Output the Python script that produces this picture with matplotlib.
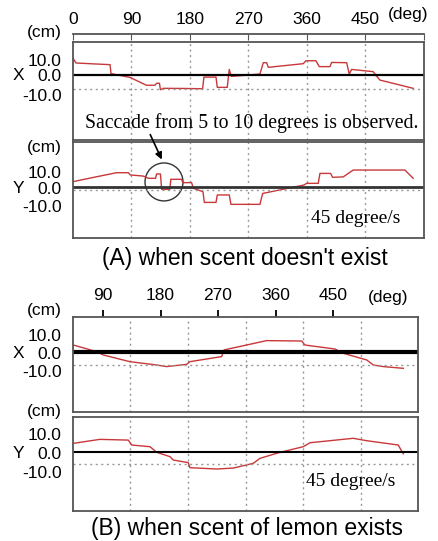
import matplotlib.pyplot as plt
import matplotlib.transforms as mtransforms
from matplotlib.patches import Ellipse

plt.rcParams['font.family'] = ['Liberation Sans', 'DejaVu Sans']

# (A) no scent : horizontal (X) and vertical (Y) gaze position
ax_deg = [0, 4.6, 30, 57, 58.5, 87.7, 113, 126, 128.7, 133, 134.5, 139, 170, 199.4, 201.4,
          220, 222, 237.3, 240.4, 243.5, 287.6, 292.7, 297.9, 300.5, 354.2, 358.4, 373.7,
          378.9, 395.3, 397.9, 421, 425, 428.6, 461.9, 467, 472.2, 523.4]
ax_cm = [12, 8.6, 8.0, 7.4, 1.0, -1.7, -7.3, -7.3, -5.9, -5.9, -10.5, -9.5, -9.6, -9.8, -1.5,
         -1.5, -8.8, -8.8, 4.0, -1.0, 0.7, 8.8, 8.8, 5.5, 8.1, 10.2, 10.2,
         6.0, 6.0, 9.0, 8.8, 0.7, 4.0, 2.4, -0.7, -3.6, -9.5]

ay_deg = [0, 30, 67, 85, 88, 108, 116, 127, 128.7, 134.5, 136.4, 149, 150.5, 167, 169, 182.5,
          185, 200, 202, 220, 222, 240.4, 243, 287.6, 291.8, 355.3, 359.4, 377.3, 379.9,
          396.3, 399.4, 415.7, 431.1, 510.6, 523.4]
ay_cm = [3.6, 6.5, 10.0, 10.0, 8.4, 7.6, 6.0, 6.0, 9.1, 9.1, -1.9, -1.9, 5.3, 5.3, 2.9, 2.9,
         -1.1, -3.6, -11.2, -11.2, -5.9, -5.9, -12.6, -12.6, -4.8, 1.2, 2.4, 2.4, 9.5,
         9.5, 6.7, 7.0, 11.9, 11.9, 6.0]

# (B) scent of lemon
bx_deg = [0.5, 37, 47.5, 89, 131, 146.6, 178, 183, 232.7, 236.3, 271.8, 303, 358, 363,
          410, 423, 459.6, 470, 485.7, 517]
bx_cm = [5, 0, -2.5, -7.5, -10, -11.2, -9.5, -7.5, -3.7, 1.3, 5, 8.3, 8, 5,
         2, -1.2, -6.2, -10, -11.2, -12.5]

by_deg = [0.5, 42, 86.6, 91.8, 120.5, 131, 151.8, 157, 180.5, 183, 225, 251, 282, 292.7,
          324, 360.5, 371, 438.6, 459.6, 509, 517]
by_cm = [7.5, 10.8, 10.2, 6.1, 4.7, 0, -3.6, -6.4, -8.6, -12.8, -13.9, -13.1, -9.2, -5,
         0, 4.7, 8, 11.7, 9.7, 6.1, -1.2]

y_labels = ['10.0', '0.0', '-10.0']
grid_deg = [90, 180, 270, 360, 450]
top_ticks = [0, 90, 180, 270, 360, 450, 540]
top_labels = ['0', '90', '180', '270', '360', '450', '']
b_top_ticks = [90, 180, 270, 360, 450]
b_offset = 43  # top scale of (B) is shifted against the grid

W, H = 439, 541
fig = plt.figure(figsize=(W / 100, H / 100), dpi=100)


def make_ax(left, top, right, bottom, ylim, label_pos):
    ax = fig.add_axes([left / W, 1 - bottom / H, (right - left) / W, (bottom - top) / H])
    ax.set_xlim(0, 540)
    ax.set_ylim(*ylim)
    for s in ax.spines.values():
        s.set_color('#555555')
        s.set_linewidth(1.3)
    ax.set_xticks(grid_deg)
    ax.tick_params(axis='x', length=0, labelbottom=False)
    ax.grid(axis='x', linestyle=(0, (1.5, 2.5)), color='#999999', linewidth=1)
    # the printed labels sit a little apart from the data levels in the original
    ax.set_yticks(label_pos, y_labels)
    ax.tick_params(axis='y', length=0, pad=8, labelsize=12.5)
    return ax


axA_x = make_ax(73, 41.7, 424, 140, (-46.4, 23.8), [10.7, 0, -14.3])
axA_y = make_ax(73, 142.3, 424, 237.7, (-36.4, 31.7), [10.7, -1.1, -13.8])
axB_x = make_ax(73, 317.3, 418, 412.3, (-45.5, 25.8), [12.5, -1.2, -14.5])
axB_y = make_ax(73, 417.3, 418, 511, (-48.9, 29.2), [15.2, -0.8, -16.2])

red = '#c8383a'
axA_x.plot(ax_deg, ax_cm, color=red, lw=1)
axA_y.plot(ay_deg, ay_cm, color=red, lw=1)
axB_x.plot(bx_deg, bx_cm, color=red, lw=1)
axB_y.plot(by_deg, by_cm, color=red, lw=1)

axA_x.axhline(0, color='black', lw=1.6)
axA_y.axhline(0, color='#333333', lw=2)
axB_x.axhline(0, color='black', lw=3)
axB_y.axhline(0, color='black', lw=1.5)
for ax, lev in [(axA_x, -10), (axA_y, -2.4), (axB_x, -10), (axB_y, -10)]:
    ax.axhline(lev, linestyle=(0, (1.5, 2.5)), color='#999999', lw=1)

# X / Y letters and (cm) units
for ax, letter, cm_off in [(axA_x, 'X', 9), (axA_y, 'Y', -5), (axB_x, 'X', 7), (axB_y, 'Y', 6)]:
    zero_lab = ax.get_yticks()[1]
    tr = mtransforms.blended_transform_factory(fig.transFigure, ax.transData)
    ax.text(18 / W, zero_lab, letter, transform=tr, ha='center', va='center', fontsize=12.5)
    ax.annotate('(cm)', xy=(0, 1), xycoords='axes fraction', xytext=(-11, cm_off),
                textcoords='offset pixels', ha='right', va='center', fontsize=12.5)

# top scale of (A)
secA = axA_x.secondary_xaxis(1.078)
secA.set_xticks(top_ticks, top_labels)
secA.tick_params(direction='in', length=4, pad=5, labelsize=12.5, color='#555555')
secA.spines['top'].set_color('#555555')
secA.spines['top'].set_linewidth(1.3)
axA_x.annotate('(deg)', xy=(1, 1.078), xycoords='axes fraction', xytext=(-16, 20),
               textcoords='offset pixels', ha='center', va='center', fontsize=12.5)

# top scale of (B)
secB = axB_x.secondary_xaxis('top', functions=(lambda x: x + b_offset, lambda x: x - b_offset))
secB.set_xticks(b_top_ticks)
secB.tick_params(direction='out', length=5, pad=5, labelsize=12.5, width=1.3)
secB.spines['top'].set_visible(False)
axB_x.annotate('(deg)', xy=(1, 1), xycoords='axes fraction', xytext=(-30, 20),
               textcoords='offset pixels', ha='center', va='center', fontsize=12.5)

serif = ['Liberation Serif', 'DejaVu Serif']
axA_x.text(274.5, -34.3, 'Saccade from 5 to 10 degrees is observed.', family=serif,
           fontsize=14.2, ha='center', va='center')
axA_y.add_patch(Ellipse((140, 3.4), 58.4, 27.1, fill=False, edgecolor='#333333', lw=1))
axA_y.annotate('', xy=(138.4, 17.6), xytext=(117, 39), annotation_clip=False,
               arrowprops=dict(arrowstyle='-|>', color='black', lw=1.2, mutation_scale=10))
axA_y.text(435, -22.4, '45 degree/s', family=serif, fontsize=14, ha='center', va='center')
axB_y.text(435, -23.9, '45 degree/s', family=serif, fontsize=14, ha='center', va='center')

fig.text(245 / W, 1 - 258 / H, "(A) when scent doesn't exist", ha='center', va='center',
         fontsize=16.5)
fig.text(246.7 / W, 1 - 528 / H, '(B) when scent of lemon exists', ha='center', va='center',
         fontsize=16.5)

fig.savefig('out.png', dpi=100)
